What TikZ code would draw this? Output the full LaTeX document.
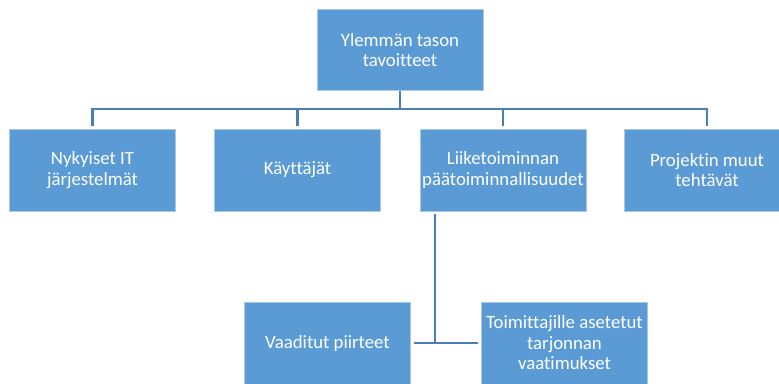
\documentclass[tikz,border=0pt]{standalone}
\usepackage{fontspec}
\setmainfont[Ligatures=NoCommon]{Carlito}
\definecolor{boxfill}{HTML}{5B9BD5}
\definecolor{boxedge}{HTML}{A9C8E8}
\definecolor{linkblue}{HTML}{4A7EBB}
\begin{document}
\begin{tikzpicture}[x=1pt,y=-1pt,
  orgbox/.style={rectangle,fill=boxfill,draw=boxedge,line width=0.6pt,
    minimum width=166pt,minimum height=82pt,inner sep=1pt,
    align=center,text=white,font=\fontsize{18.8}{20.5}\selectfont},
  link/.style={draw=linkblue,line width=2.6pt}]
\useasboundingbox (0,0) rectangle (779,383);

% top level
\node[orgbox,minimum height=81pt] (top) at (400,50) {Ylemmän tason\\tavoitteet};

% second level
\node[orgbox] (it)   at (92.5,170) {Nykyiset IT\\järjestelmät};
\node[orgbox] (user) at (297.5,170) {Käyttäjät};
\node[orgbox] (biz)  at (503,170) {Liiketoiminnan\\päätoiminnallisuudet};
\node[orgbox] (proj) at (707,170) {Projektin muut\\tehtävät};

% third level
\node[orgbox] (feat) at (327.5,343) {Vaaditut piirteet};
\node[orgbox] (supp) at (564.5,343) {Toimittajille asetetut\\tarjonnan\\vaatimukset};

% bus between the first and second levels
\coordinate (bus) at (400,109);
\draw[link] (top.south) -- (bus);
\draw[link,shorten >=3pt] (bus) -| (it.north);
\draw[link,shorten >=3pt] (bus) -| (proj.north);
\draw[link,shorten >=3pt] (user.north |- bus) -- (user.north);
\draw[link,shorten >=3pt] (biz.north |- bus) -- (biz.north);

% branch under the business functions
\coordinate (junc) at (435,343);
\draw[link,shorten <=3pt] (biz.south -| junc) -- (junc);
\draw[link,shorten <=3pt,shorten >=3pt] (feat.east) -- (supp.west);
\end{tikzpicture}
\end{document}
